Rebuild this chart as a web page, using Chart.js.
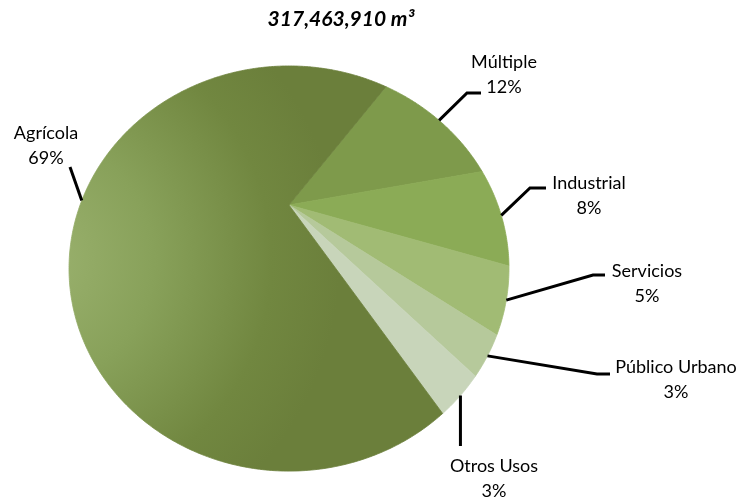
<!DOCTYPE html>
<html>
<head>
<meta charset="utf-8">
<script src="https://cdn.jsdelivr.net/npm/chart.js@4.4.0/dist/chart.umd.min.js"></script>
<style>
    html, body { margin: 0; background: #fff; }
    #wrap { width: 742px; height: 500px; }
</style>
</head>
<body>
<div id="wrap"><canvas id="usosChart"></canvas></div>
<script>
// Volumen concesionado por uso
const usos = ['Múltiple', 'Industrial', 'Servicios', 'Público Urbano', 'Otros Usos', 'Agrícola'];
const porcentajes = [12, 8, 5, 3, 3, 69];
const volumenTotal = '317,463,910 m³';

const colores = ['#7e9a4b', '#8bab56', '#a1bb74', '#b6c99b', '#c8d5ba', '#6f843f'];

// Posición de cada etiqueta (centro del texto) y de las guías
const etiquetas = [
    { tx: 504, ty: 62, codo: [467, 93], fin: [481, 93] },
    { tx: 589, ty: 183, codo: [530, 188], fin: [546, 188] },
    { tx: 647, ty: 271, codo: [593, 275], fin: [605, 275] },
    { tx: 676, ty: 367, codo: [597, 374], fin: [610, 374] },
    { tx: 494, ty: 466, codo: null, fin: [null, 446] },
    { tx: 46, ty: 133, codo: null, fin: [70, 167] }
];

// Inclinación del pastel (vista en perspectiva)
const ESCALA_X = 1.019;
const ESCALA_Y = 0.891;
const FUGA = 0.3136;

function proyectar(cx, cy, r, ang) {
    const u = Math.cos(ang);
    const v = Math.sin(ang);
    const w = 1 - FUGA * v;
    return { x: cx + r * ESCALA_X * u / w, y: cy + r * ESCALA_Y * v / w };
}

const pastelInclinado = {
    id: 'pastelInclinado',
    beforeDatasetDraw(chart, args) {
        const ctx = chart.ctx;
        const meta = args.meta;
        ctx.save();
        meta.data.forEach((arc, i) => {
            const p = arc.getProps(['x', 'y', 'startAngle', 'endAngle', 'outerRadius'], true);
            let relleno = colores[i];
            if (usos[i] === 'Agrícola') {
                const g = ctx.createRadialGradient(30, 260, 0, 30, 260, 310);
                g.addColorStop(0, '#9cb370');
                g.addColorStop(0.4, '#88a15a');
                g.addColorStop(0.78, '#718740');
                g.addColorStop(1, '#6b7f3b');
                relleno = g;
            }
            ctx.beginPath();
            ctx.moveTo(p.x, p.y);
            const pasos = Math.max(2, Math.ceil((p.endAngle - p.startAngle) / 0.01));
            for (let s = 0; s <= pasos; s++) {
                const a = p.startAngle + (p.endAngle - p.startAngle) * s / pasos;
                const q = proyectar(p.x, p.y, p.outerRadius, a);
                ctx.lineTo(q.x, q.y);
            }
            ctx.closePath();
            ctx.fillStyle = relleno;
            ctx.strokeStyle = relleno;
            ctx.lineWidth = 0.8;
            ctx.fill();
            ctx.stroke();
        });
        ctx.restore();
        return false; // el arco normal no se dibuja
    },
    afterDatasetsDraw(chart) {
        const ctx = chart.ctx;
        const meta = chart.getDatasetMeta(0);
        ctx.save();

        // guías
        ctx.strokeStyle = '#000';
        ctx.lineWidth = 3;
        meta.data.forEach((arc, i) => {
            const p = arc.getProps(['x', 'y', 'startAngle', 'endAngle', 'outerRadius'], true);
            const borde = proyectar(p.x, p.y, p.outerRadius, (p.startAngle + p.endAngle) / 2);
            const e = etiquetas[i];
            ctx.beginPath();
            ctx.moveTo(borde.x, borde.y);
            if (e.codo) ctx.lineTo(e.codo[0], e.codo[1]);
            ctx.lineTo(e.fin[0] === null ? borde.x : e.fin[0], e.fin[1]);
            ctx.stroke();
        });

        // textos
        ctx.fillStyle = '#000';
        ctx.textAlign = 'center';
        ctx.textBaseline = 'middle';
        ctx.font = '18px Lato';
        meta.data.forEach((arc, i) => {
            const e = etiquetas[i];
            ctx.fillText(usos[i], e.tx, e.ty);
            ctx.fillText(porcentajes[i] + '%', e.tx, e.ty + 25);
        });

        ctx.font = 'italic bold 21px Lato';
        ctx.fillText(volumenTotal, 341, 19);
        ctx.restore();
    }
};

const ctx = document.getElementById('usosChart').getContext('2d');
new Chart(ctx, {
    type: 'pie',
    data: {
        labels: usos,
        datasets: [{
            data: porcentajes,
            backgroundColor: colores,
            borderWidth: 0,
            hoverOffset: 0
        }]
    },
    options: {
        responsive: true,
        maintainAspectRatio: false,
        animation: false,
        rotation: 35.6,
        layout: { padding: { left: 69, right: 233, top: 0, bottom: 90 } },
        plugins: {
            legend: { display: false },
            tooltip: { enabled: false }
        }
    },
    plugins: [pastelInclinado]
});
</script>
</body>
</html>
